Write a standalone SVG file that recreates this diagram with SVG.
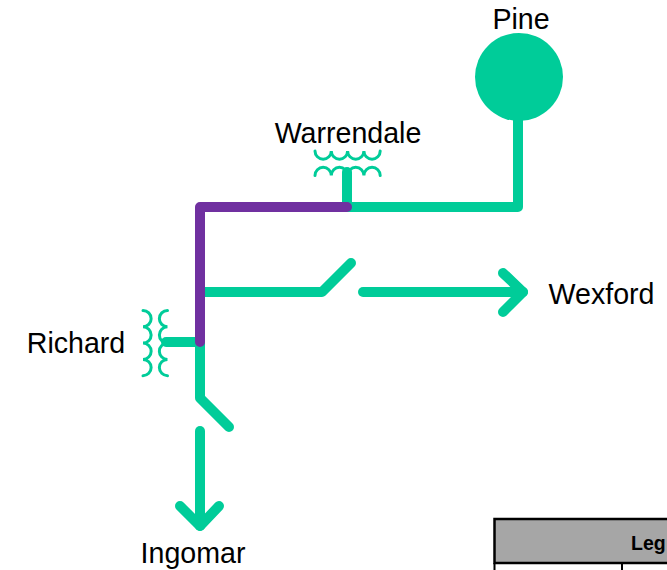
<svg xmlns="http://www.w3.org/2000/svg" width="667" height="570" viewBox="0 0 667 570">
<style>
text{font-family:"Liberation Sans",Arial,sans-serif;font-size:28.600px;fill:#000}
.w{fill:none;stroke:#00cc99;stroke-width:10px;stroke-linecap:round;stroke-linejoin:round}
.p{fill:none;stroke:#7030a0;stroke-width:10px;stroke-linecap:round;stroke-linejoin:round}
.c{fill:none;stroke:#00cc99;stroke-width:3px;stroke-linecap:round}
</style>
<g id="connectors">
<path class="w" d="M518 110V207H347"/>
<path class="w" d="M347 207V172"/>
<path class="w" d="M200 292H322L351 263"/>
<path class="w" d="M363 292H523"/>
<path class="w" d="M503 273L523 292L503 312"/>
<path class="w" d="M200 342H166"/>
<path class="w" d="M200 342V398L229 427"/>
<path class="w" d="M200 431V526"/>
<path class="w" d="M180 506L200 526L219 506"/>
<path class="p" d="M347 207H200V342"/>
</g>
<g id="pine"><circle cx="519" cy="77" r="44" fill="#00cc99"/><text x="521" y="29" text-anchor="middle">Pine</text></g>
<g id="warrendale">
<path class="c" d="M315 151a8.150 8.150 0 0 0 16.300 0a8.150 8.150 0 0 0 16.300 0a8.150 8.150 0 0 0 16.300 0a8.150 8.150 0 0 0 16.300 0"/>
<path class="c" d="M315 175.500a8.150 8.150 0 0 1 16.300 0a8.150 8.150 0 0 1 16.300 0a8.150 8.150 0 0 1 16.300 0a8.150 8.150 0 0 1 16.300 0"/>
<text x="348" y="143" text-anchor="middle">Warrendale</text>
</g>
<g id="richard">
<path class="c" d="M143 310.500a8.150 8.150 0 0 1 0 16.300a8.150 8.150 0 0 1 0 16.300a8.150 8.150 0 0 1 0 16.300a8.150 8.150 0 0 1 0 16.300"/>
<path class="c" d="M167.500 310.500a8.150 8.150 0 0 0 0 16.300a8.150 8.150 0 0 0 0 16.300a8.150 8.150 0 0 0 0 16.300a8.150 8.150 0 0 0 0 16.300"/>
<text x="76" y="353" text-anchor="middle">Richard</text>
</g>
<g id="wexford"><text x="601.500" y="303.500" text-anchor="middle">Wexford</text></g>
<g id="ingomar"><text x="193" y="563" text-anchor="middle">Ingomar</text></g>
<g id="legend">
<rect x="494.500" y="519" width="180" height="44" fill="#a6a6a6" stroke="#000" stroke-width="2.500"/>
<path d="M494.500 563V575M622 563V575" stroke="#000" stroke-width="2" fill="none"/>
<text x="631" y="550" style="font-size:19.500px;font-weight:bold">Leg</text>
</g>
</svg>
